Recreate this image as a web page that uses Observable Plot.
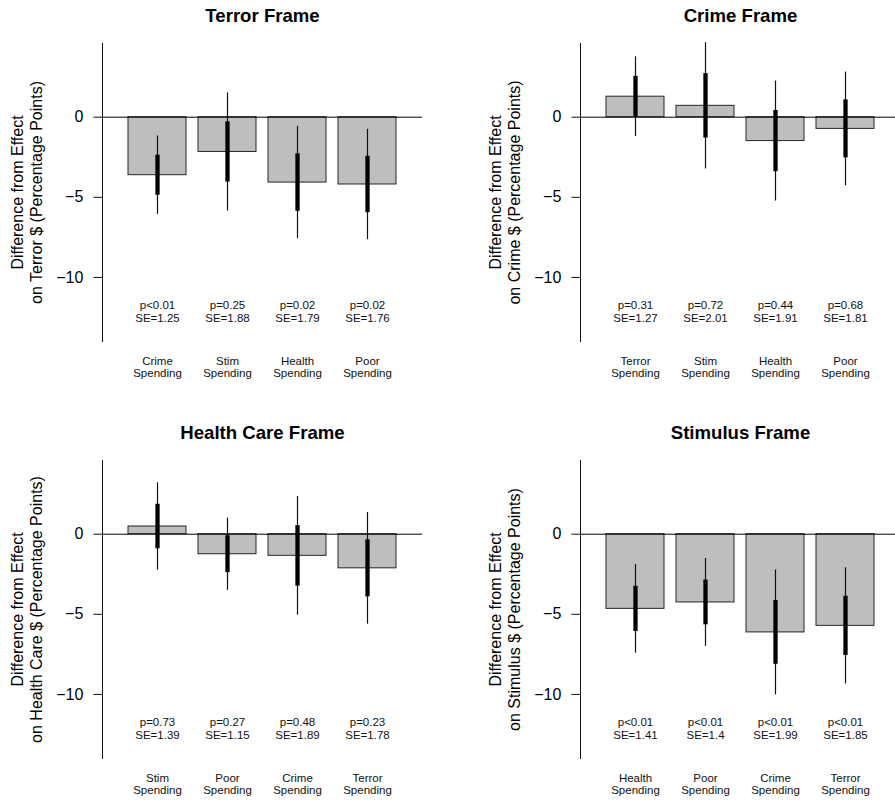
<!DOCTYPE html>
<html><head><meta charset="utf-8">
<script src="https://cdn.jsdelivr.net/npm/d3@7"></script>
<script src="https://cdn.jsdelivr.net/npm/@observablehq/plot@0.6"></script>
<style>
body{margin:0;background:#fff;overflow:hidden}
#root{position:relative;width:895px;height:802px;overflow:hidden;background:#fff}
.panel{position:absolute;width:447px}
.panel svg{max-width:none !important;display:block}
</style></head><body><div id="root"></div>
<script>
const titles = ["Terror Frame", "Crime Frame", "Health Care Frame", "Stimulus Frame"];
const yLabels = [
  "Difference from Effect\non Terror $ (Percentage Points)",
  "Difference from Effect\non Crime $ (Percentage Points)",
  "Difference from Effect\non Health Care $ (Percentage Points)",
  "Difference from Effect\non Stimulus $ (Percentage Points)"
];
const cats1 = ["Crime", "Stim", "Health", "Poor"];
const cats2 = ["Terror", "Stim", "Health", "Poor"];
const cats3 = ["Stim", "Poor", "Crime", "Terror"];
const cats4 = ["Health", "Poor", "Crime", "Terror"];
const diff1 = [-3.62, -2.17, -4.08, -4.20];
const diff2 = [1.28, 0.71, -1.49, -0.73];
const diff3 = [0.48, -1.25, -1.35, -2.13];
const diff4 = [-4.66, -4.26, -6.13, -5.72];
const se1 = [1.25, 1.88, 1.79, 1.76];
const se2 = [1.27, 2.01, 1.91, 1.81];
const se3 = [1.39, 1.15, 1.89, 1.78];
const se4 = [1.41, 1.4, 1.99, 1.85];
const p1 = ["p<0.01", "p=0.25", "p=0.02", "p=0.02"];
const p2 = ["p=0.31", "p=0.72", "p=0.44", "p=0.68"];
const p3 = ["p=0.73", "p=0.27", "p=0.48", "p=0.23"];
const p4 = ["p<0.01", "p<0.01", "p<0.01", "p<0.01"];
const yTicks = [-10, -5, 0];
const yDomain = [-14, 4.6];
const annotY = -12.1;
const zCrit = 1.96;

const panels = [
  {cats: cats1, diff: diff1, se: se1, p: p1},
  {cats: cats2, diff: diff2, se: se2, p: p2},
  {cats: cats3, diff: diff3, se: se3, p: p3},
  {cats: cats4, diff: diff4, se: se4, p: p4}
];
const lefts = [0, 478, 0, 478];
const tops = [0, 0, 417, 417];
const heights = [417, 417, 385, 385];
const FONT = "'Liberation Sans', Arial, Helvetica, sans-serif";

const root = document.getElementById("root");
panels.forEach((pn, i) => {
  const rows = pn.cats.map((c, j) => ({cat: c, diff: pn.diff[j], se: pn.se[j], p: pn.p[j]}));
  const H = heights[i];
  const chart = Plot.plot({
    width: 447, height: H,
    marginLeft: 102, marginRight: 25, marginTop: 43, marginBottom: H - 341,
    style: {fontFamily: FONT, fontSize: "16px", color: "#000", background: "#fff", overflow: "visible"},
    x: {type: "band", domain: pn.cats, paddingInner: 1/6, paddingOuter: 0.337, axis: null},
    y: {domain: yDomain, axis: null},
    marks: [
      Plot.barY(rows, {x: "cat", y: "diff", fill: "#bebebe", stroke: "#262626", strokeWidth: 1}),
      Plot.ruleY([0], {stroke: "#000", strokeWidth: 1}),
      Plot.ruleX(rows, {x: "cat", y1: d => d.diff - zCrit * d.se, y2: d => d.diff + zCrit * d.se, stroke: "#111", strokeWidth: 1.2}),
      Plot.ruleX(rows, {x: "cat", y1: d => d.diff - d.se, y2: d => d.diff + d.se, stroke: "#000", strokeWidth: 4.3, strokeLinecap: "butt"}),
      Plot.frame({anchor: "left", stroke: "#111", strokeWidth: 1}),
      Plot.axisY({ticks: yTicks, tickSize: 8.6, tickPadding: 10.6, fontSize: 16, label: null, stroke: "#111"}),
      Plot.text(rows, {x: "cat", y: d => annotY, text: d => `${d.p}\nSE=${d.se}`, fontSize: 11.5, lineHeight: 1.15, lineAnchor: "middle", fill: "#111"}),
      Plot.text(rows, {x: "cat", text: d => `${d.cat}\nSpending`, frameAnchor: "bottom", dy: 25.5, fontSize: 11.5, lineHeight: 1.1, lineAnchor: "middle", textAnchor: "middle", fill: "#111"}),
      Plot.text([titles[i]], {text: d => d, frameAnchor: "top", dy: -27, fontSize: 18.6, fontWeight: "bold", lineAnchor: "middle", textAnchor: "middle"}),
      Plot.text([yLabels[i]], {text: d => d, frameAnchor: "left", dx: -75.8, rotate: -90, fontSize: 16, lineHeight: 1.2, lineAnchor: "middle", textAnchor: "middle"})
    ]
  });
  const div = document.createElement("div");
  div.className = "panel";
  div.style.left = lefts[i] + "px";
  div.style.top = tops[i] + "px";
  div.appendChild(chart);
  root.appendChild(div);
});
</script>
</body></html>
